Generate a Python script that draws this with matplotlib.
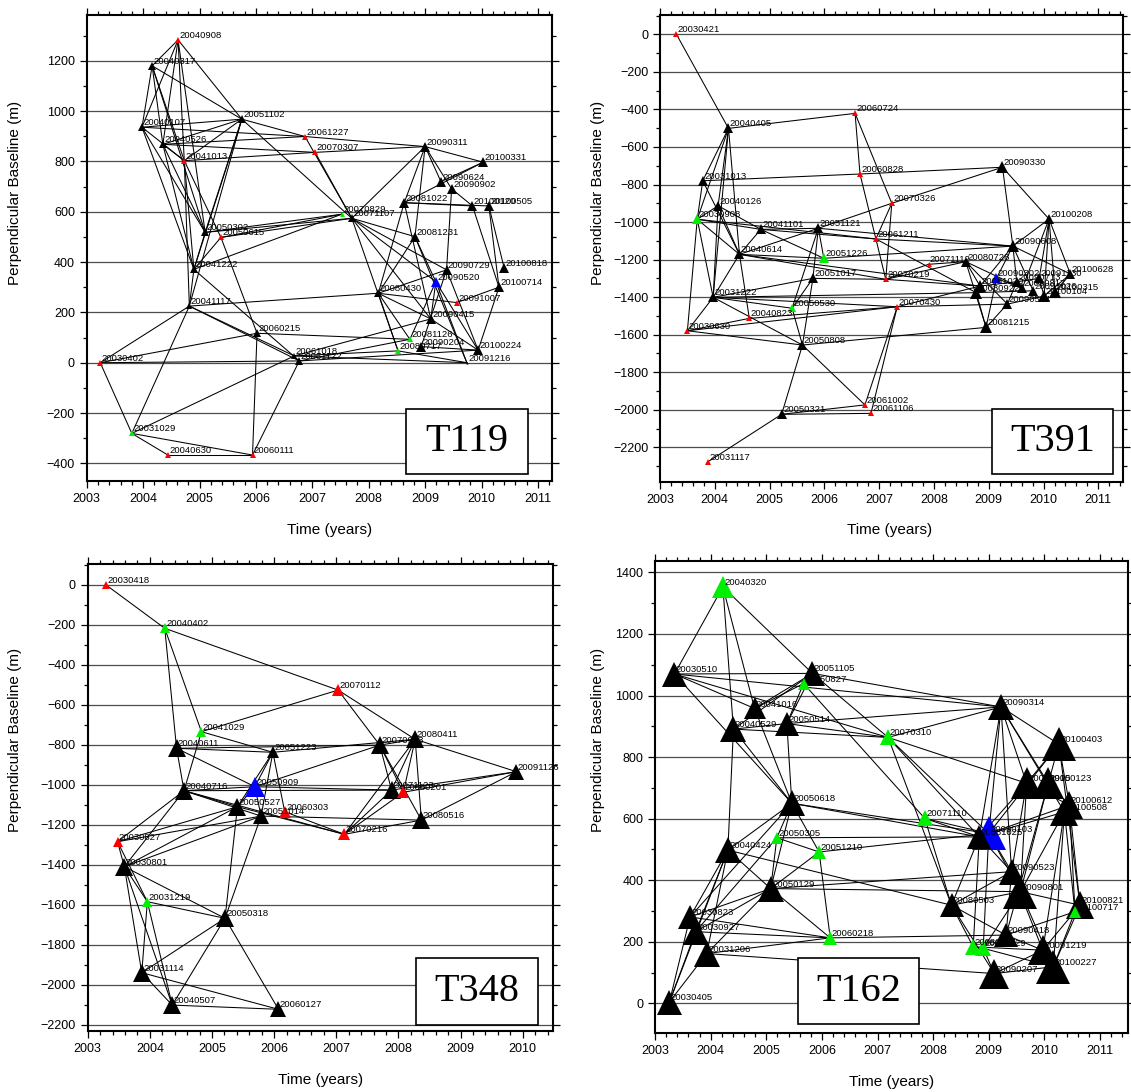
import matplotlib
matplotlib.use("Agg")
import matplotlib.pyplot as plt
from matplotlib.ticker import MultipleLocator
from matplotlib.patches import Rectangle

plt.rcParams['font.family'] = ['Liberation Sans', 'DejaVu Sans']

cores = {'k': 'black', 'r': '#ff0000', 'g': '#00ee00', 'b': '#0000ff'}

# ---------------- T119 ----------------
t119_datas = ["20040908", "20040317", "20040107", "20040526", "20041013", "20051102", "20061227",
              "20070307", "20050302", "20050615", "20041222", "20041117", "20060215", "20030402",
              "20031029", "20040630", "20060111", "20061018", "20061122", "20070829", "20071107",
              "20090311", "20100331", "20090624", "20090902", "20081022", "20100120", "20100505",
              "20081231", "20090729", "20090520", "20100818", "20100714", "20080430", "20091007",
              "20090415", "20081126", "20090204", "20080717", "20100224", "20091216"]
t119_x = [2004.62, 2004.16, 2003.98, 2004.35, 2004.73, 2005.75, 2006.87, 2007.05, 2005.10, 2005.38,
          2004.90, 2004.82, 2006.02, 2003.24, 2003.80, 2004.44, 2005.94, 2006.68, 2006.77, 2007.52,
          2007.70, 2009.00, 2010.03, 2009.28, 2009.47, 2008.63, 2009.84, 2010.13, 2008.82, 2009.38,
          2009.19, 2010.40, 2010.31, 2008.17, 2009.56, 2009.10, 2008.73, 2008.93, 2008.52, 2009.94,
          2009.74]
t119_y = [1283, 1180, 936, 868, 803, 968, 899, 836, 518, 498, 371, 225, 117, 0, -281, -367, -367,
          27, 7, 590, 574, 859, 797, 720, 691, 636, 623, 623, 501, 369, 322, 378, 300, 276, 239,
          174, 93, 64, 47, 50, 0]
t119_cor = list("rkkkrkrrkrkkkrgrrkkgkkkkkkkkkkbkkkrkgkgkk")
t119_tam = [4.5, 6, 6, 6, 4.5, 5.5, 4, 4, 6, 4.5, 6, 5, 6, 5, 4, 5, 4, 5, 6, 3.5, 5.5, 7, 7.5, 7.5,
            7.5, 7.5, 7.5, 7.5, 7.5, 7.5, 7.5, 6.5, 7.5, 6, 5, 7.5, 4.5, 7, 4, 7.5, 1.5]
t119_pares = [
    ("20040908", "20040317"), ("20040908", "20040107"), ("20040908", "20040526"), ("20040908", "20041013"),
    ("20040908", "20051102"), ("20040908", "20050302"), ("20040317", "20040107"), ("20040317", "20040526"),
    ("20040317", "20041013"), ("20040317", "20051102"), ("20040317", "20050302"), ("20040107", "20051102"),
    ("20040107", "20061227"), ("20040107", "20050302"), ("20040107", "20041222"), ("20040107", "20041013"),
    ("20040526", "20051102"), ("20040526", "20061227"), ("20040526", "20070307"), ("20040526", "20050302"),
    ("20040526", "20041013"), ("20040526", "20041222"), ("20041013", "20051102"), ("20041013", "20070307"),
    ("20041013", "20050615"), ("20041013", "20041222"), ("20041013", "20041117"), ("20051102", "20061227"),
    ("20051102", "20071107"), ("20051102", "20041117"), ("20051102", "20050302"), ("20051102", "20041222"),
    ("20050302", "20070829"), ("20050302", "20071107"), ("20050615", "20071107"), ("20050615", "20070829"),
    ("20050615", "20041222"), ("20050615", "20060215"), ("20050302", "20041222"), ("20041222", "20070829"),
    ("20041222", "20061122"), ("20041222", "20041117"), ("20041117", "20061018"), ("20041117", "20061122"),
    ("20041117", "20030402"), ("20041117", "20080430"), ("20041117", "20031029"), ("20060215", "20030402"),
    ("20060215", "20060111"), ("20060215", "20081126"), ("20030402", "20031029"), ("20030402", "20061122"),
    ("20031029", "20040630"), ("20031029", "20060111"), ("20031029", "20061018"), ("20040630", "20060111"),
    ("20060111", "20061122"), ("20061227", "20090311"), ("20070307", "20090311"), ("20061227", "20071107"),
    ("20070307", "20071107"), ("20071107", "20090311"), ("20071107", "20081231"), ("20071107", "20090729"),
    ("20071107", "20090520"), ("20071107", "20090415"), ("20071107", "20080717"), ("20090311", "20100331"),
    ("20090311", "20090624"), ("20090311", "20090902"), ("20090311", "20081022"), ("20090311", "20081231"),
    ("20100331", "20081022"), ("20100331", "20090624"), ("20081022", "20100120"), ("20081022", "20100505"),
    ("20081022", "20080430"), ("20081022", "20090415"), ("20090902", "20100120"), ("20090902", "20090729"),
    ("20100120", "20100714"), ("20100505", "20100818"), ("20100505", "20100714"), ("20081231", "20080430"),
    ("20081231", "20091216"), ("20081231", "20090520"), ("20090729", "20080430"), ("20090729", "20100224"),
    ("20090729", "20090204"), ("20090520", "20100224"), ("20090520", "20091216"), ("20090520", "20081126"),
    ("20090520", "20090415"), ("20080430", "20091007"), ("20080430", "20081126"), ("20080430", "20080717"),
    ("20080430", "20090415"), ("20100714", "20091007"), ("20100714", "20100224"), ("20090415", "20061018"),
    ("20090415", "20100224"), ("20081126", "20061122"), ("20090204", "20100224"), ("20080717", "20061018"),
    ("20080717", "20091216"), ("20061122", "20100224"), ("20091216", "20061018")]

# ---------------- T391 ----------------
t391_datas = ["20030421", "20040405", "20060724", "20031013", "20060828", "20040126", "20030908",
              "20041101", "20051121", "20061211", "20040614", "20051226", "20051017", "20031222",
              "20050530", "20040823", "20030630", "20050808", "20050321", "20061002", "20061106",
              "20031117", "20070326", "20070219", "20070430", "20071112", "20080728", "20090330",
              "20100208", "20090608", "20100628", "20090302", "20090713", "20081020", "20080922",
              "20091130", "20090817", "20091026", "20100315", "20100104", "20090504", "20081215"]
t391_x = [2003.30, 2004.25, 2006.56, 2003.78, 2006.65, 2004.06, 2003.68, 2004.84, 2005.89, 2006.94,
          2004.45, 2005.99, 2005.79, 2003.97, 2005.41, 2004.63, 2003.50, 2005.60, 2005.22, 2006.74,
          2006.85, 2003.88, 2007.23, 2007.12, 2007.33, 2007.90, 2008.58, 2009.25, 2010.10, 2009.44,
          2010.49, 2009.14, 2009.51, 2008.84, 2008.77, 2009.92, 2009.61, 2009.81, 2010.21, 2010.01,
          2009.34, 2008.95]
t391_y = [0, -501, -421, -780, -744, -913, -985, -1039, -1033, -1090, -1172, -1193, -1300, -1401,
          -1459, -1513, -1579, -1655, -2024, -1974, -2019, -2276, -900, -1305, -1451, -1225, -1211,
          -708, -984, -1128, -1277, -1300, -1318, -1341, -1376, -1300, -1353, -1366, -1371, -1394,
          -1437, -1561]
t391_cor = list("rkrkrkgkkrkgkkgrrkkrrrrrrrkkkkkbkkkkkkkkkk")
t391_tam = [4, 6.5, 4.5, 6.5, 4.5, 6.5, 6.5, 7, 6.5, 4.5, 7, 7, 6.5, 7, 5.5, 5, 5, 7, 6.5, 4.5, 4.5,
            4.5, 5, 4.5, 4.5, 3.5, 6.5, 8.5, 7.5, 8, 7, 6.5, 7.5, 8, 8, 7.5, 7.5, 7.5, 8, 8, 7.5, 9]
t391_pares = [
    ("20030421", "20040405"), ("20040405", "20060724"), ("20040405", "20031013"), ("20040405", "20030908"),
    ("20040405", "20040126"), ("20040405", "20031222"), ("20040405", "20040614"), ("20031013", "20060828"),
    ("20031013", "20040614"), ("20031013", "20030908"), ("20030908", "20040126"), ("20030908", "20041101"),
    ("20030908", "20061211"), ("20030908", "20040614"), ("20030908", "20031222"), ("20030908", "20030630"),
    ("20040126", "20031222"), ("20040126", "20041101"), ("20040126", "20040614"), ("20041101", "20051226"),
    ("20041101", "20040614"), ("20041101", "20051121"), ("20041101", "20061211"), ("20051121", "20040614"),
    ("20051121", "20051226"), ("20051121", "20051017"), ("20051121", "20050530"), ("20051121", "20070326"),
    ("20051121", "20090608"), ("20040614", "20051226"), ("20040614", "20070219"), ("20040614", "20040823"),
    ("20040614", "20031222"), ("20040614", "20081020"), ("20051226", "20090608"), ("20051017", "20031222"),
    ("20051017", "20070219"), ("20051017", "20050530"), ("20051017", "20050808"), ("20031222", "20050530"),
    ("20031222", "20050808"), ("20031222", "20030630"), ("20031222", "20080922"), ("20031222", "20070430"),
    ("20040823", "20030630"), ("20040823", "20070430"), ("20030630", "20050808"), ("20030630", "20070430"),
    ("20050808", "20061002"), ("20050808", "20050321"), ("20050808", "20081215"), ("20050530", "20050808"),
    ("20050321", "20031117"), ("20050321", "20061002"), ("20050321", "20061106"), ("20061002", "20070430"),
    ("20061106", "20070430"), ("20060724", "20060828"), ("20060724", "20070326"), ("20060828", "20090330"),
    ("20060828", "20070219"), ("20070326", "20090330"), ("20070326", "20061211"), ("20070326", "20070219"),
    ("20061211", "20090608"), ("20061211", "20080922"), ("20070219", "20071112"), ("20070219", "20080728"),
    ("20070219", "20081020"), ("20070430", "20081020"), ("20070430", "20090504"), ("20071112", "20080728"),
    ("20080728", "20081215"), ("20080728", "20081020"), ("20080728", "20090817"), ("20080728", "20090504"),
    ("20090330", "20100208"), ("20090330", "20090608"), ("20100208", "20090608"), ("20100208", "20100628"),
    ("20100208", "20091130"), ("20100208", "20090817"), ("20100208", "20100315"), ("20100208", "20100104"),
    ("20090608", "20100628"), ("20090608", "20090302"), ("20090608", "20090713"), ("20090608", "20081020"),
    ("20090608", "20091026"), ("20100628", "20100315"), ("20100628", "20100104"), ("20081215", "20080922"),
    ("20081215", "20090302"), ("20081215", "20090504"), ("20090504", "20090713"), ("20090504", "20100104"),
    ("20081020", "20090713"), ("20080922", "20091026"), ("20090302", "20090817"), ("20090713", "20091130"),
    ("20091130", "20100104")]

# ---------------- T348 ----------------
t348_datas = ["20030418", "20040402", "20041029", "20040611", "20051223", "20050909", "20040716",
              "20050527", "20051014", "20060303", "20030827", "20030801", "20031219", "20050318",
              "20031114", "20040507", "20060127", "20070112", "20070913", "20080411", "20091126",
              "20071123", "20080201", "20080516", "20070216"]
t348_x = [2003.29, 2004.24, 2004.83, 2004.43, 2005.98, 2005.69, 2004.55, 2005.41, 2005.79, 2006.17,
          2003.48, 2003.59, 2003.96, 2005.21, 2003.87, 2004.36, 2006.07, 2007.03, 2007.70, 2008.27,
          2009.90, 2007.89, 2008.08, 2008.37, 2007.13]
t348_y = [0, -218, -735, -818, -838, -1010, -1030, -1110, -1157, -1135, -1285, -1410, -1585, -1668,
          -1940, -2102, -2123, -527, -802, -773, -935, -1027, -1038, -1177, -1248]
t348_cor = list("rggkkbkkkrrkgkkkkrkkkkrkr")
t348_tam = [6, 7, 7, 13.5, 9, 14, 13.5, 13, 12, 8, 7, 13.5, 7, 13, 13.5, 13.5, 11, 8, 13, 13, 12,
            13, 9, 13, 9]
t348_pares = [
    ("20030418", "20040402"), ("20040402", "20040611"), ("20040402", "20041029"), ("20040402", "20070112"),
    ("20041029", "20040716"), ("20041029", "20051223"), ("20041029", "20070112"), ("20040611", "20051223"),
    ("20040611", "20040716"), ("20040611", "20050909"), ("20040611", "20070913"), ("20051223", "20050909"),
    ("20051223", "20051014"), ("20051223", "20060303"), ("20051223", "20050527"), ("20051223", "20080411"),
    ("20040716", "20050909"), ("20040716", "20050527"), ("20040716", "20051014"), ("20040716", "20070216"),
    ("20040716", "20030801"), ("20040716", "20071123"), ("20050909", "20071123"), ("20050909", "20050527"),
    ("20050909", "20051014"), ("20050909", "20070913"), ("20050527", "20030827"), ("20050527", "20030801"),
    ("20050527", "20050318"), ("20050527", "20070216"), ("20051014", "20030827"), ("20051014", "20030801"),
    ("20051014", "20050318"), ("20051014", "20080516"), ("20060303", "20070216"), ("20030827", "20030801"),
    ("20030827", "20040716"), ("20030827", "20031219"), ("20030801", "20031114"), ("20030801", "20040507"),
    ("20030801", "20050318"), ("20030801", "20031219"), ("20031219", "20031114"), ("20031219", "20040507"),
    ("20031219", "20050318"), ("20031114", "20050318"), ("20031114", "20040507"), ("20031114", "20060127"),
    ("20040507", "20050318"), ("20040507", "20060127"), ("20050318", "20060127"), ("20070112", "20070913"),
    ("20070112", "20080411"), ("20070913", "20080411"), ("20070913", "20071123"), ("20070913", "20080201"),
    ("20070913", "20080516"), ("20080411", "20071123"), ("20080411", "20080201"), ("20080411", "20080516"),
    ("20080411", "20091126"), ("20080411", "20070216"), ("20071123", "20091126"), ("20080201", "20091126"),
    ("20080201", "20070216"), ("20080516", "20091126"), ("20080516", "20070216"), ("20071123", "20070216")]

# ---------------- T162 ----------------
t162_datas = ["20040320", "20030510", "20051105", "20050827", "20041016", "20040529", "20050514",
              "20070310", "20090314", "20100403", "20090905", "20100123", "20100612", "20100508",
              "20071110", "20090103", "20081025", "20090523", "20090801", "20080503", "20100821",
              "20100717", "20090418", "20080914", "20081129", "20091219", "20100227", "20090207",
              "20050618", "20050305", "20051210", "20040424", "20050129", "20030823", "20030927",
              "20031206", "20060218", "20030405"]
t162_x = [2004.22, 2003.35, 2005.83, 2005.67, 2004.79, 2004.41, 2005.37, 2007.19, 2009.22, 2010.26,
          2009.68, 2010.07, 2010.45, 2010.36, 2007.85, 2009.00, 2008.83, 2009.41, 2009.57, 2008.33,
          2010.64, 2010.55, 2009.31, 2008.72, 2008.90, 2009.97, 2010.16, 2009.10, 2005.46, 2005.19,
          2005.95, 2004.31, 2005.08, 2003.63, 2003.73, 2003.93, 2006.15, 2003.26]
t162_y = [1353, 1070, 1072, 1039, 958, 891, 909, 864, 963, 842, 715, 715, 644, 622, 601, 552, 541,
          428, 363, 319, 319, 298, 222, 184, 179, 173, 119, 97, 650, 538, 492, 498, 373, 281, 233,
          162, 213, 5]
t162_cor = list("gkkgkkkgkkkkkkgbkkkkkgkggkkkkggkkkkkgk")
t162_tam = [16, 18, 18, 8, 16.5, 19, 17, 12, 18.5, 24, 23, 23, 20, 20, 12, 24, 17, 19, 24, 17, 20,
            9, 17, 12, 12, 22, 24, 22, 19, 8.5, 10, 19, 19, 17, 19, 19, 9.5, 18]
t162_pares = [
    ("20040320", "20030510"), ("20040320", "20040529"), ("20040320", "20041016"), ("20040320", "20051105"),
    ("20030510", "20051105"), ("20030510", "20090314"), ("20030510", "20041016"), ("20030510", "20050618"),
    ("20030510", "20070310"), ("20051105", "20041016"), ("20051105", "20050514"), ("20051105", "20040529"),
    ("20051105", "20070310"), ("20051105", "20090314"), ("20050827", "20041016"), ("20050827", "20050514"),
    ("20050827", "20071110"), ("20041016", "20050618"), ("20040529", "20050514"), ("20040529", "20070310"),
    ("20040529", "20040424"), ("20040529", "20050618"), ("20050514", "20050618"), ("20050514", "20090314"),
    ("20050514", "20070310"), ("20070310", "20090314"), ("20070310", "20081025"), ("20070310", "20090103"),
    ("20070310", "20080503"), ("20070310", "20090905"), ("20090314", "20100403"), ("20090314", "20090905"),
    ("20090314", "20100123"), ("20090314", "20081025"), ("20090314", "20090103"), ("20090314", "20090523"),
    ("20090314", "20100508"), ("20100403", "20090905"), ("20100403", "20100123"), ("20100403", "20100612"),
    ("20100403", "20100821"), ("20100403", "20090103"), ("20090905", "20090523"), ("20090905", "20090801"),
    ("20090905", "20081025"), ("20090905", "20100612"), ("20100123", "20090801"), ("20100123", "20100612"),
    ("20100123", "20090418"), ("20100612", "20100717"), ("20100612", "20100821"), ("20100612", "20090103"),
    ("20100508", "20100717"), ("20100508", "20091219"), ("20100508", "20081025"), ("20100508", "20090801"),
    ("20100508", "20100227"), ("20071110", "20081025"), ("20071110", "20090103"), ("20071110", "20080503"),
    ("20050618", "20090103"), ("20050618", "20081025"), ("20050618", "20050305"), ("20050618", "20051210"),
    ("20050618", "20050129"), ("20050618", "20040424"), ("20050618", "20030823"), ("20050305", "20081025"),
    ("20050305", "20051210"), ("20050305", "20050129"), ("20050305", "20030927"), ("20051210", "20060218"),
    ("20051210", "20050129"), ("20051210", "20090103"), ("20040424", "20030823"), ("20040424", "20030927"),
    ("20040424", "20031206"), ("20040424", "20030405"), ("20040424", "20050129"), ("20040424", "20080503"),
    ("20050129", "20030823"), ("20050129", "20031206"), ("20050129", "20060218"), ("20050129", "20090801"),
    ("20050129", "20090523"), ("20030823", "20060218"), ("20030823", "20030405"), ("20030927", "20060218"),
    ("20030927", "20030405"), ("20030927", "20050129"), ("20031206", "20030405"), ("20031206", "20090207"),
    ("20031206", "20060218"), ("20060218", "20090418"), ("20081025", "20090523"), ("20081025", "20080503"),
    ("20081025", "20080914"), ("20090103", "20090523"), ("20090103", "20090801"), ("20090103", "20081129"),
    ("20090523", "20080503"), ("20090523", "20090418"), ("20090523", "20091219"), ("20090801", "20080503"),
    ("20090801", "20081129"), ("20090801", "20100227"), ("20090801", "20100821"), ("20080503", "20080914"),
    ("20080503", "20090207"), ("20080503", "20090418"), ("20100821", "20091219"), ("20100821", "20100227"),
    ("20100717", "20090418"), ("20100717", "20100227"), ("20080914", "20081129"), ("20080914", "20091219"),
    ("20081129", "20090207"), ("20081129", "20100227"), ("20091219", "20090207"), ("20091219", "20090418"),
    ("20100227", "20090207")]


def desenha_painel(ax, datas, xs, ys, cor, tam, pares, xmax, ylim, anos, nome, caixa):
    idx = {d: i for i, d in enumerate(datas)}
    for a, b in pares:
        i, j = idx[a], idx[b]
        ax.plot([xs[i], xs[j]], [ys[i], ys[j]], color='black', lw=0.75, zorder=2)
    for i in range(len(datas)):
        ax.plot(xs[i], ys[i], marker='^', ms=tam[i], color=cores[cor[i]], mew=0, ls='none', zorder=3)
        ax.annotate(datas[i], (xs[i], ys[i]), xytext=(1, 3.2), textcoords='offset points',
                    fontsize=6.8, ha='left', va='center', zorder=4)
    ax.set_xlim(2003, xmax)
    ax.set_ylim(*ylim)
    ax.set_xticks(anos)
    ax.set_xticklabels([str(a) for a in anos])
    ax.xaxis.set_minor_locator(MultipleLocator(0.2))
    ax.yaxis.set_major_locator(MultipleLocator(200))
    ax.yaxis.set_minor_locator(MultipleLocator(100))
    ax.tick_params(which='both', direction='out', top=True, right=True, labelsize=9, width=0.9)
    ax.tick_params(which='major', length=5)
    ax.tick_params(which='minor', length=3)
    ax.yaxis.grid(True, color='0.3', lw=0.9)
    ax.set_axisbelow(True)
    for s in ax.spines.values():
        s.set_linewidth(1.5)
    x0, y0, x1, y1 = caixa
    ax.add_patch(Rectangle((x0, y0), x1 - x0, y1 - y0, transform=ax.transAxes,
                           facecolor='white', edgecolor='black', lw=1.2, zorder=6, clip_on=False))
    ax.text((x0 + x1) / 2, (y0 + y1) / 2, nome, transform=ax.transAxes, ha='center', va='center',
            fontsize=29, family='Liberation Serif', zorder=7)


fig = plt.figure(figsize=(11.31, 10.92), dpi=100)
W, H = 1131, 1092


def eixo(esq, dir, topo, base):
    return fig.add_axes([esq / W, 1 - base / H, (dir - esq) / W, (base - topo) / H])


ax1 = eixo(86.7, 552.3, 15, 480.7)
ax2 = eixo(660, 1123.3, 15, 481.7)
ax3 = eixo(87.7, 552.7, 564.3, 1030.7)
ax4 = eixo(655, 1128.3, 560.7, 1033.3)

desenha_painel(ax1, t119_datas, t119_x, t119_y, t119_cor, t119_tam, t119_pares, 2011.255,
               (-469, 1382), list(range(2003, 2012)), "T119", (0.686, 0.014, 0.948, 0.154))
desenha_painel(ax2, t391_datas, t391_x, t391_y, t391_cor, t391_tam, t391_pares, 2011.455,
               (-2383, 103), list(range(2003, 2012)), "T391", (0.716, 0.016, 0.978, 0.156))
desenha_painel(ax3, t348_datas, t348_x, t348_y, t348_cor, t348_tam, t348_pares, 2010.483,
               (-2230, 102), list(range(2003, 2011)), "T348", (0.706, 0.013, 0.968, 0.155))
desenha_painel(ax4, t162_datas, t162_x, t162_y, t162_cor, t162_tam, t162_pares, 2011.508,
               (-97, 1438), list(range(2003, 2012)), "T162", (0.3015, 0.019, 0.558, 0.159))

for (xt, yt) in [(330, 530), (890, 530), (321, 1080), (892, 1082)]:
    fig.text(xt / W, 1 - yt / H, "Time (years)", ha='center', va='center', fontsize=11)
for (xt, yt) in [(15, 193), (598, 193), (15, 740), (598, 740)]:
    fig.text(xt / W, 1 - yt / H, "Perpendicular Baseline (m)", ha='center', va='center',
             fontsize=11, rotation=90)

plt.savefig("out.png", dpi=100)
